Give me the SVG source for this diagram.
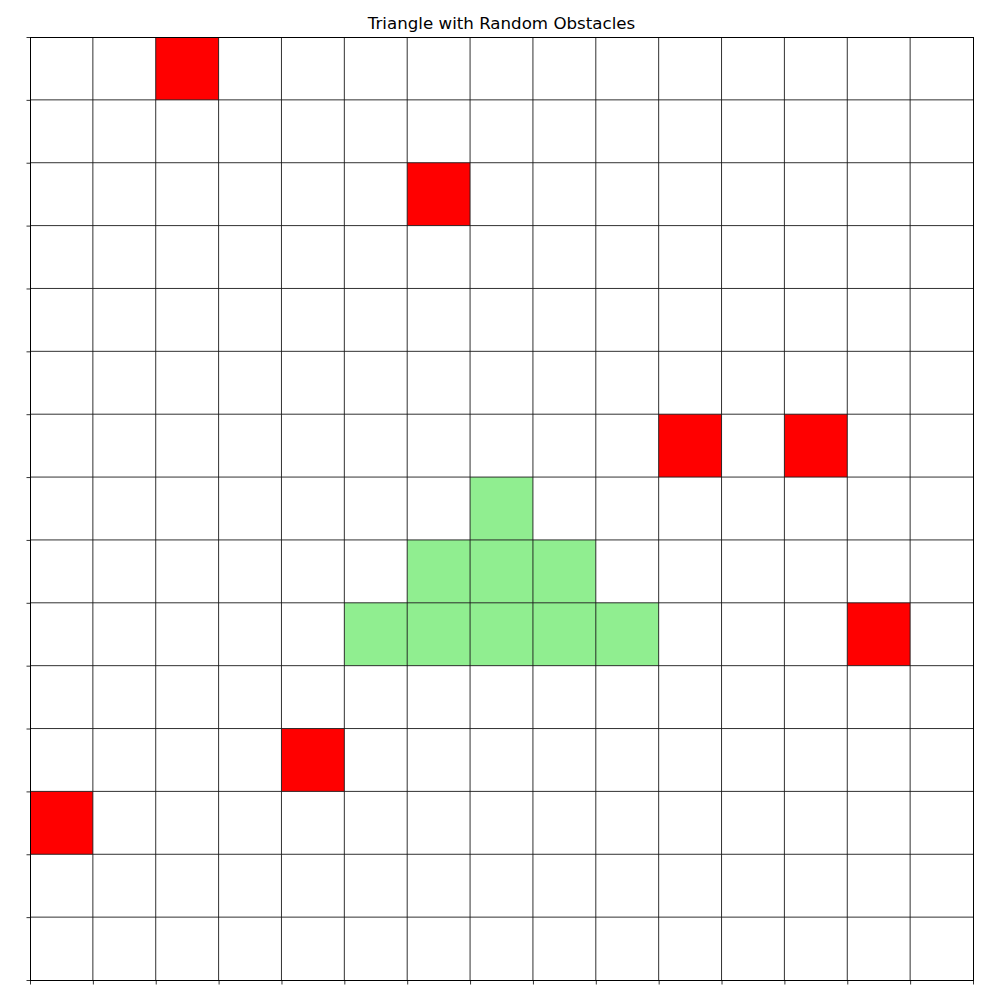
<svg xmlns="http://www.w3.org/2000/svg" width="1000" height="1000" viewBox="0 0 1000 1000">
<style>
.obs{fill:#ff0000}
.tri{fill:#90ee90}
.grid{stroke:#1a1a1a;stroke-width:0.9;fill:none;vector-effect:non-scaling-stroke}
.spine{stroke:#000;stroke-width:1;fill:none}
.tick{stroke:#000;stroke-width:0.8}
.title{font-family:"DejaVu Sans",sans-serif;font-size:16.67px;fill:#000}
</style>
<rect width="1000" height="1000" fill="#fff"/>
<text class="title" x="501.5" y="29" text-anchor="middle">Triangle with Random Obstacles</text>
<g id="cells" transform="translate(30,37) scale(62.8667)">
<g id="obstacles">
<rect class="obs" x="2" y="0" width="1" height="1"/>
<rect class="obs" x="6" y="2" width="1" height="1"/>
<rect class="obs" x="10" y="6" width="1" height="1"/>
<rect class="obs" x="12" y="6" width="1" height="1"/>
<rect class="obs" x="13" y="9" width="1" height="1"/>
<rect class="obs" x="4" y="11" width="1" height="1"/>
<rect class="obs" x="0" y="12" width="1" height="1"/>
</g>
<g id="triangle">
<rect class="tri" x="7" y="7" width="1" height="1"/>
<rect class="tri" x="6" y="8" width="3" height="1"/>
<rect class="tri" x="5" y="9" width="5" height="1"/>
</g>
<g id="gridlines">
<path class="grid" d="M1 0V15M2 0V15M3 0V15M4 0V15M5 0V15M6 0V15M7 0V15M8 0V15M9 0V15M10 0V15M11 0V15M12 0V15M13 0V15M14 0V15M0 1H15M0 2H15M0 3H15M0 4H15M0 5H15M0 6H15M0 7H15M0 8H15M0 9H15M0 10H15M0 11H15M0 12H15M0 13H15M0 14H15"/>
</g>
</g>
<g id="axes">
<rect class="spine" x="30.5" y="37.5" width="943" height="943"/>
<path class="tick" d="M26.5 37.5H30.5M26.5 100.37H30.5M26.5 163.23H30.5M26.5 226.1H30.5M26.5 288.97H30.5M26.5 351.83H30.5M26.5 414.7H30.5M26.5 477.57H30.5M26.5 540.43H30.5M26.5 603.3H30.5M26.5 666.17H30.5M26.5 729.03H30.5M26.5 791.9H30.5M26.5 854.77H30.5M26.5 917.63H30.5M26.5 980.5H30.5"/>
<path class="tick" d="M30.5 980.5V984.5M93.37 980.5V984.5M156.23 980.5V984.5M219.1 980.5V984.5M281.97 980.5V984.5M344.83 980.5V984.5M407.7 980.5V984.5M470.57 980.5V984.5M533.43 980.5V984.5M596.3 980.5V984.5M659.17 980.5V984.5M722.03 980.5V984.5M784.9 980.5V984.5M847.77 980.5V984.5M910.63 980.5V984.5M973.5 980.5V984.5"/>
</g>
</svg>
